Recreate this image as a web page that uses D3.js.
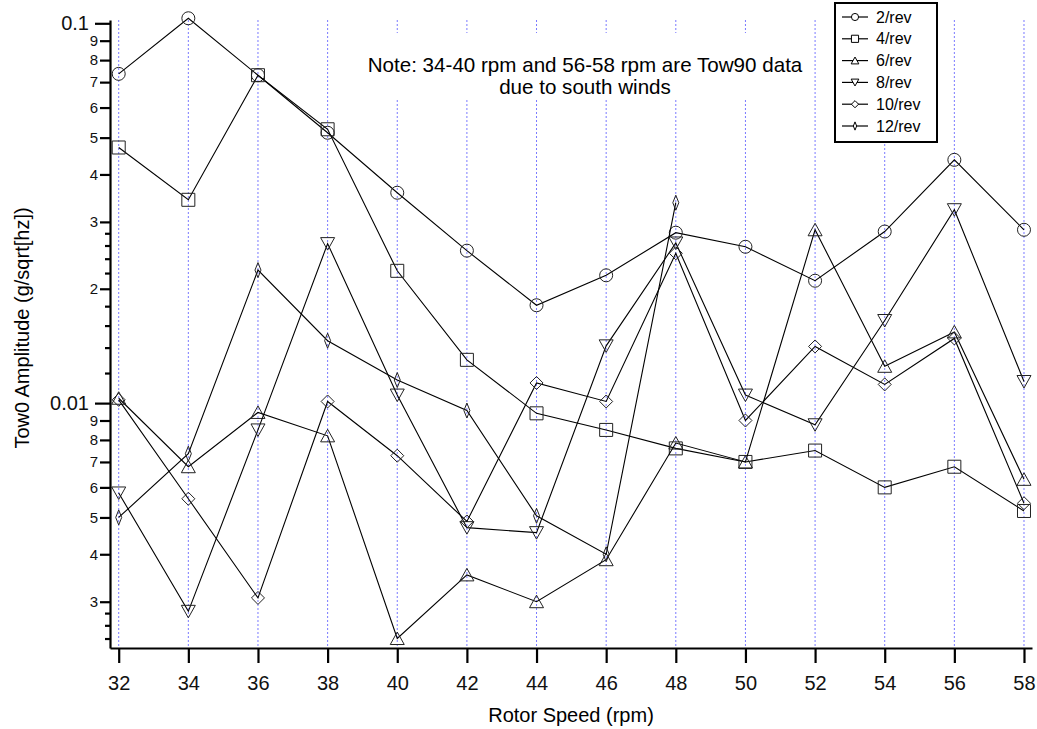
<!DOCTYPE html>
<html>
<head>
<meta charset="utf-8">
<script src="https://cdn.jsdelivr.net/npm/d3@7"></script>
<style>
  body { margin: 0; background: #fff; }
  svg { display: block; font-family: Arial, 'Liberation Sans', sans-serif; }
</style>
</head>
<body>
<svg width="1037" height="729"></svg>
<script>
// rotor speed (rpm) and amplitudes per harmonic
const rpm = [32, 34, 36, 38, 40, 42, 44, 46, 48, 50, 52, 54, 56, 58]
const rev2 = [0.0736, 0.1031, 0.073, 0.0515, 0.0358, 0.0252, 0.0181, 0.0217, 0.0281, 0.0258, 0.021, 0.0283, 0.0437, 0.0286]
const rev4 = [0.0471, 0.0343, 0.073, 0.0526, 0.0223, 0.013, 0.0094, 0.0085, 0.0076, 0.007, 0.0075, 0.006, 0.0068, 0.0052]
const rev6 = [0.0103, 0.0068, 0.00945, 0.0082, 0.0024, 0.00353, 0.003, 0.00387, 0.00785, 0.007, 0.0286, 0.0125, 0.0154, 0.0063]
const rev8 = [0.0058, 0.00283, 0.0085, 0.0263, 0.0105, 0.0047, 0.00456, 0.01415, 0.0264, 0.0105, 0.00877, 0.0165, 0.0323, 0.0114]
const rev10 = [0.0102, 0.0056, 0.00307, 0.0101, 0.00727, 0.00488, 0.0113, 0.0101, 0.0248, 0.009, 0.0141, 0.0112, 0.0148, 0.00545]
const rev12 = [0.005, 0.00736, 0.0224, 0.0146, 0.0115, 0.00956, 0.00505, 0.004, 0.0337] // 32..48 only

const seriesNames = ['2/rev', '4/rev', '6/rev', '8/rev', '10/rev', '12/rev']
const seriesValues = [rev2, rev4, rev6, rev8, rev10, rev12]
const seriesShapes = ['circle', 'square', 'triUp', 'triDown', 'diamond', 'thin']

const majorTicks = [0.01, 0.1]
const labeledMinor = [0.003, 0.004, 0.005, 0.006, 0.007, 0.008, 0.009, 0.02, 0.03, 0.04, 0.05, 0.06, 0.07, 0.08, 0.09]
const smallMinor = [0.0024, 0.0026, 0.0028, 0.012, 0.014, 0.016, 0.018, 0.022, 0.024, 0.026, 0.028]

const noteLines = ['Note: 34-40 rpm and 56-58 rpm are Tow90 data', 'due to south winds']

const svg = d3.select('svg'),
  plotLeft = 110,
  plotRight = 1032,
  plotTop = 20,
  plotBottom = 648

const x = d3.scaleLinear().domain([31.75, 58.23]).range([plotLeft, plotRight])
const y = d3.scaleLog().domain([0.002266, 0.10202]).range([plotBottom, plotTop])

// marker outlines, k scales them down for the legend
const marker = (shape, k = 1) => {
  const p = d3.path()
  if (shape === 'circle') {
    p.arc(0, 0, 6.5 * k, 0, 2 * Math.PI)
  } else if (shape === 'square') {
    p.rect(-6.5 * k, -6.5 * k, 13 * k, 13 * k)
  } else if (shape === 'triUp') {
    p.moveTo(0, -6.5 * k); p.lineTo(7 * k, 6 * k); p.lineTo(-7 * k, 6 * k); p.closePath()
  } else if (shape === 'triDown') {
    p.moveTo(0, 6.5 * k); p.lineTo(7 * k, -6 * k); p.lineTo(-7 * k, -6 * k); p.closePath()
  } else if (shape === 'diamond') {
    p.moveTo(0, -6.5 * k); p.lineTo(6.5 * k, 0); p.lineTo(0, 6.5 * k); p.lineTo(-6.5 * k, 0); p.closePath()
  } else {
    p.moveTo(0, -7.5 * k); p.lineTo(3 * k, 0); p.lineTo(0, 7.5 * k); p.lineTo(-3 * k, 0); p.closePath()
  }
  return p.toString()
}

// vertical dotted grid
svg.append('g')
  .selectAll('line')
  .data(rpm)
  .join('line')
  .attr('x1', (d) => x(d))
  .attr('x2', (d) => x(d))
  .attr('y1', plotTop)
  .attr('y2', plotBottom)
  .attr('stroke', '#7a7aff')
  .attr('stroke-width', 1)
  .attr('stroke-dasharray', '2,2')

// note with its white box
svg.append('rect')
  .attr('x', 358).attr('y', 33).attr('width', 454).attr('height', 67)
  .attr('fill', '#fff')
svg.append('g')
  .selectAll('text')
  .data(noteLines)
  .join('text')
  .attr('x', 585)
  .attr('y', (d, i) => 71.5 + i * 22)
  .attr('text-anchor', 'middle')
  .attr('font-size', 20.6)
  .text((d) => d)

// series
const line = d3.line().x((d) => x(d[0])).y((d) => y(d[1]))

seriesValues.forEach((vals, i) => {
  const pts = vals.map((v, j) => [rpm[j], v])
  const g = svg.append('g')
  g.append('path')
    .datum(pts)
    .attr('d', line)
    .attr('fill', 'none')
    .attr('stroke', '#000')
    .attr('stroke-width', 1.1)
  g.selectAll('path.m')
    .data(pts)
    .join('path')
    .attr('class', 'm')
    .attr('transform', (d) => `translate(${x(d[0])},${y(d[1])})`)
    .attr('d', marker(seriesShapes[i]))
    .attr('fill', 'none')
    .attr('stroke', '#222')
    .attr('stroke-width', 1)
})

// axes
const xAxis = svg.append('g')
  .attr('transform', `translate(0,${plotBottom})`)
  .call(d3.axisBottom(x).tickValues(rpm).tickSize(15).tickSizeOuter(0).tickPadding(13))
xAxis.select('.domain').attr('stroke-width', 2.2)
xAxis.selectAll('.tick line').attr('stroke-width', 2.2)
xAxis.selectAll('text').attr('font-size', 20).attr('font-family', null).attr('fill', '#111')

const yMajor = svg.append('g')
  .attr('transform', `translate(${plotLeft},0)`)
  .call(d3.axisLeft(y).tickValues(majorTicks).tickFormat((d) => String(d)).tickSize(15).tickSizeOuter(0).tickPadding(6))
yMajor.select('.domain').attr('stroke-width', 2.2)
yMajor.selectAll('.tick line').attr('stroke-width', 2.2)
yMajor.selectAll('text').attr('font-size', 20).attr('font-family', null).attr('fill', '#111')

const yMid = svg.append('g')
  .attr('transform', `translate(${plotLeft},0)`)
  .call(d3.axisLeft(y).tickValues(labeledMinor).tickFormat((d) => String(Math.round(d / Math.pow(10, Math.floor(Math.log10(d) + 1e-9))))).tickSize(10).tickPadding(2))
yMid.select('.domain').remove()
yMid.selectAll('.tick line').attr('stroke-width', 2.2)
yMid.selectAll('text').attr('font-size', 15).attr('font-family', null).attr('fill', '#111')

const yMinor = svg.append('g')
  .attr('transform', `translate(${plotLeft},0)`)
  .call(d3.axisLeft(y).tickValues(smallMinor).tickFormat('').tickSize(5))
yMinor.select('.domain').remove()
yMinor.selectAll('.tick line').attr('stroke-width', 2.2)

// axis titles
svg.append('text')
  .attr('x', (plotLeft + plotRight) / 2)
  .attr('y', 722)
  .attr('text-anchor', 'middle')
  .attr('font-size', 20)
  .text('Rotor Speed (rpm)')

svg.append('text')
  .attr('transform', 'translate(29,328) rotate(-90)')
  .attr('text-anchor', 'middle')
  .attr('font-size', 20)
  .text('Tow0 Amplitude (g/sqrt[hz])')

// legend
const legend = svg.append('g').attr('transform', 'translate(835,3)')
legend.append('rect')
  .attr('width', 102)
  .attr('height', 139)
  .attr('fill', '#fff')
  .attr('stroke', '#000')
  .attr('stroke-width', 2)

seriesNames.forEach((name, i) => {
  const row = legend.append('g').attr('transform', `translate(0,${14 + i * 21.8})`)
  row.append('line')
    .attr('x1', 7).attr('x2', 33)
    .attr('stroke', '#000').attr('stroke-width', 1.2)
  row.append('path')
    .attr('transform', 'translate(20,0)')
    .attr('d', marker(seriesShapes[i], 0.55))
    .attr('fill', '#fff')
    .attr('stroke', '#000')
  row.append('text')
    .attr('x', 41)
    .attr('dy', '0.35em')
    .attr('font-size', 16)
    .text(name)
})
</script>
</body>
</html>
